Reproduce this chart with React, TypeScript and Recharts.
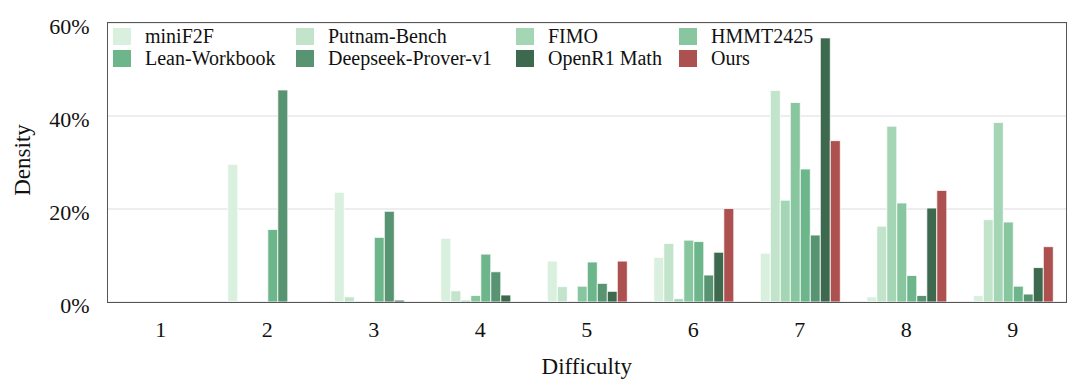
import React from 'react';
import { BarChart, Bar, XAxis, YAxis, CartesianGrid, Label } from 'recharts';

const categories = ['1', '2', '3', '4', '5', '6', '7', '8', '9'];
const barOrder = ['miniF2F', 'Putnam-Bench', 'FIMO', 'HMMT2425', 'Lean-Workbook', 'Deepseek-Prover-v1', 'OpenR1 Math', 'Ours'];

const miniF2F = [0, 29.6, 23.6, 13.7, 8.8, 9.6, 10.5, 1.1, 1.4];
const putnamBench = [0, 0, 1.1, 2.4, 3.3, 12.6, 45.5, 16.3, 17.7];
const fimo = [0, 0, 0, 0.4, 0, 0.7, 21.9, 37.8, 38.6];
const hmmt2425 = [0, 0, 0, 1.4, 3.4, 13.3, 42.9, 21.3, 17.2];
const leanWorkbook = [0, 15.6, 13.9, 10.3, 8.6, 13.0, 28.6, 5.7, 3.4];
const deepseekProver = [0, 45.6, 19.5, 6.5, 4.0, 5.8, 14.4, 1.4, 1.7];
const openR1Math = [0, 0, 0.4, 1.5, 2.3, 10.7, 56.8, 20.2, 7.4];
const ours = [0, 0, 0, 0, 8.8, 20.1, 34.7, 24.0, 11.9];

const yTicks = [0, 20, 40, 60];

const seriesValues: Record<string, number[]> = {
  'miniF2F': miniF2F,
  'Putnam-Bench': putnamBench,
  'FIMO': fimo,
  'HMMT2425': hmmt2425,
  'Lean-Workbook': leanWorkbook,
  'Deepseek-Prover-v1': deepseekProver,
  'OpenR1 Math': openR1Math,
  'Ours': ours,
};

const colors: Record<string, string> = {
  'miniF2F': '#d9f0de',
  'Putnam-Bench': '#c1e4ca',
  'FIMO': '#a4d5b5',
  'HMMT2425': '#88c6a0',
  'Lean-Workbook': '#6db68b',
  'Deepseek-Prover-v1': '#589372',
  'OpenR1 Math': '#3d6a4f',
  'Ours': '#ad5050',
};

const data = categories.map((c, i) => {
  const row: Record<string, number | string> = { difficulty: c };
  barOrder.forEach((n) => { row[n] = seriesValues[n][i]; });
  return row;
});

const FONT = '"Liberation Serif", "Times New Roman", serif';

const legendCols = [
  { sw: 113, names: ['miniF2F', 'Lean-Workbook'] },
  { sw: 296, names: ['Putnam-Bench', 'Deepseek-Prover-v1'] },
  { sw: 516, names: ['FIMO', 'OpenR1 Math'] },
  { sw: 679, names: ['HMMT2425', 'Ours'] },
];

const CHART_W = 1080;
const CHART_H = 389;
const M = { top: 23, right: 14, bottom: 0, left: 0 };
const Y_W = 107.5;
const X_H = 87;

const LegendBox = () => (
  <div style={{ position: 'absolute', left: 0, top: 0, width: 1080, height: 70, fontFamily: FONT, pointerEvents: 'none' }}>
    {legendCols.map((col) =>
      col.names.map((n, r) => (
        <div key={n} style={{ position: 'absolute', left: col.sw, top: 28 + r * 22, height: 17, display: 'flex', alignItems: 'center' }}>
          <div style={{ width: 18, height: 17, background: colors[n] }} />
          <span style={{ marginLeft: 14, fontSize: 20, color: '#111', lineHeight: '17px', whiteSpace: 'nowrap' }}>{n}</span>
        </div>
      ))
    )}
  </div>
);

const Frame = () => (
  <div
    style={{
      position: 'absolute',
      left: M.left + Y_W - 0.6,
      top: M.top - 0.6,
      width: CHART_W - M.left - M.right - Y_W,
      height: CHART_H - M.top - M.bottom - X_H,
      border: '1.2px solid #555',
      pointerEvents: 'none',
    }}
  />
);

export default function App() {
  return (
    <div style={{ position: 'absolute', left: 0, top: 0, width: CHART_W, height: CHART_H, background: '#fff' }}>
      <BarChart
        width={CHART_W}
        height={CHART_H}
        data={data}
        margin={M}
        barGap={0}
        barCategoryGap={13.8}
      >
        <CartesianGrid vertical={false} stroke="#dcdcdc" strokeWidth={1} />
        <XAxis
          dataKey="difficulty"
          height={X_H}
          tickLine={false}
          tickSize={0}
          tickMargin={19}
          axisLine={false}
          tick={{ fontSize: 22, fill: '#111', fontFamily: FONT }}
        >
          <Label value="Difficulty" position="insideBottom" offset={15} style={{ fontSize: 23, fill: '#111', fontFamily: FONT }} />
        </XAxis>
        <YAxis
          width={Y_W}
          domain={[0, 60]}
          ticks={yTicks}
          tickFormatter={(v: number) => `${v}%`}
          tickLine={false}
          tickSize={0}
          tickMargin={18}
          axisLine={false}
          tick={{ fontSize: 22, fill: '#111', fontFamily: FONT, dy: 3 } as any}
        >
          <Label
            content={() => (
              <text x={22} y={160} transform="rotate(-90, 22, 160)" textAnchor="middle" dominantBaseline="central" style={{ fontSize: 23, fill: '#111', fontFamily: FONT }}>
                Density
              </text>
            )}
          />
        </YAxis>
        {barOrder.map((n) => (
          <Bar key={n} dataKey={n} name={n} fill={colors[n]} stroke="#ffffff" strokeWidth={0.8} isAnimationActive={false} />
        ))}
      </BarChart>
      <Frame />
      <LegendBox />
    </div>
  );
}
